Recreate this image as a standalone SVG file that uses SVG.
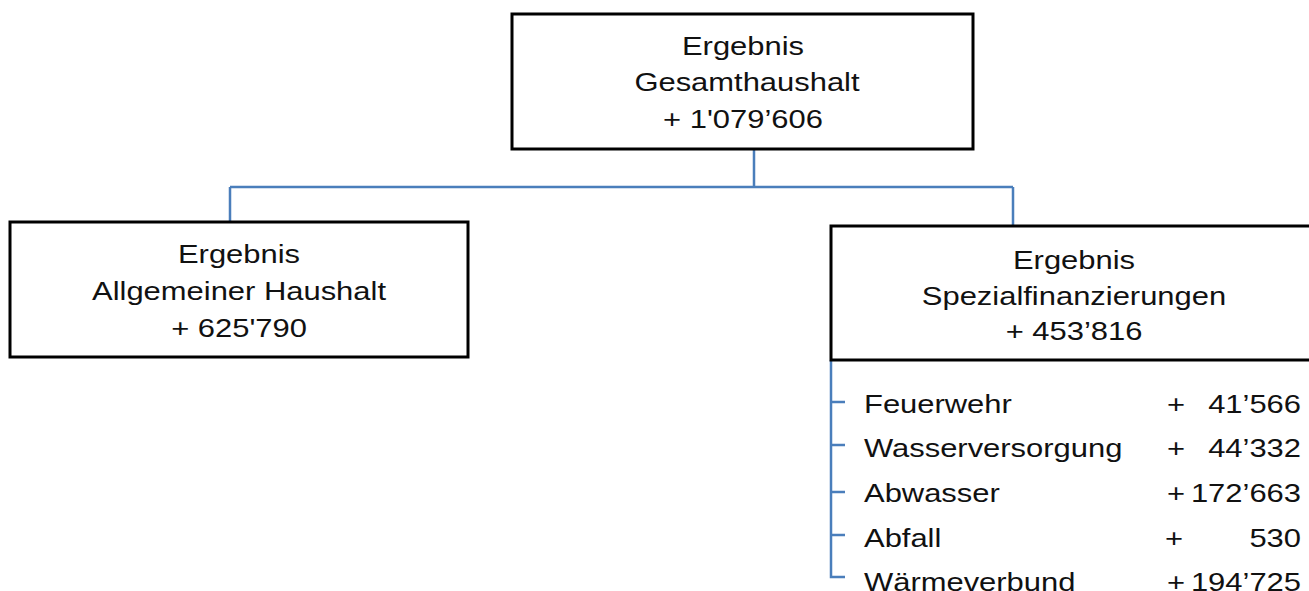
<svg xmlns="http://www.w3.org/2000/svg" width="1309" height="591" viewBox="0 0 1309 591">
<style>
.box{fill:#fff;stroke:#000;stroke-width:3}
.t{font-family:"Liberation Sans",Arial,sans-serif;font-size:26px;fill:#111}
.c{text-anchor:middle}
.r{text-anchor:end}
.ln{fill:none;stroke:#4a7ebb;stroke-width:2.5}
</style>
<rect width="1309" height="591" fill="#fff"/>
<g id="connectors">
<path class="ln" d="M754 149 V187 M230 187 H1013 M230 187 V222 M1013 187 V226"/>
<path class="ln" d="M831 360 V577 H845 M831 402 H845 M831 445 H845 M831 492 H845 M831 535 H845"/>
</g>
<g id="gesamt">
<rect class="box" x="512" y="14" width="461" height="135"/>
<text class="t c" transform="translate(743,55) scale(1.19,1)">Ergebnis</text>
<text class="t c" transform="translate(747,91) scale(1.19,1)">Gesamthaushalt</text>
<text class="t c" transform="translate(743,128) scale(1.19,1)">+ 1'079’606</text>
</g>
<g id="allgemein">
<rect class="box" x="10" y="222" width="458" height="135"/>
<text class="t c" transform="translate(239,263) scale(1.19,1)">Ergebnis</text>
<text class="t c" transform="translate(239,300) scale(1.19,1)">Allgemeiner Haushalt</text>
<text class="t c" transform="translate(239,337) scale(1.19,1)">+ 625'790</text>
</g>
<g id="spezial">
<rect class="box" x="831" y="226" width="490" height="134"/>
<text class="t c" transform="translate(1074,269) scale(1.19,1)">Ergebnis</text>
<text class="t c" transform="translate(1074,305) scale(1.19,1)">Spezialfinanzierungen</text>
<text class="t c" transform="translate(1074,340) scale(1.19,1)">+ 453’816</text>
</g>
<g id="feuerwehr">
<text class="t" transform="translate(864,413) scale(1.19,1)">Feuerwehr</text>
<text class="t" transform="translate(1167,413) scale(1.19,1)">+</text>
<text class="t r" transform="translate(1301,413) scale(1.19,1)">41’566</text>
</g>
<g id="wasserversorgung">
<text class="t" transform="translate(864,457) scale(1.19,1)">Wasserversorgung</text>
<text class="t" transform="translate(1167,457) scale(1.19,1)">+</text>
<text class="t r" transform="translate(1301,457) scale(1.19,1)">44’332</text>
</g>
<g id="abwasser">
<text class="t" transform="translate(864,502) scale(1.19,1)">Abwasser</text>
<text class="t" transform="translate(1167,502) scale(1.19,1)">+</text>
<text class="t r" transform="translate(1301,502) scale(1.19,1)">172’663</text>
</g>
<g id="abfall">
<text class="t" transform="translate(864,547) scale(1.19,1)">Abfall</text>
<text class="t" transform="translate(1165,547) scale(1.19,1)">+</text>
<text class="t r" transform="translate(1301,547) scale(1.19,1)">530</text>
</g>
<g id="waermeverbund">
<text class="t" transform="translate(864,591) scale(1.19,1)">Wärmeverbund</text>
<text class="t" transform="translate(1167,591) scale(1.19,1)">+</text>
<text class="t r" transform="translate(1301,591) scale(1.19,1)">194’725</text>
</g>
</svg>
